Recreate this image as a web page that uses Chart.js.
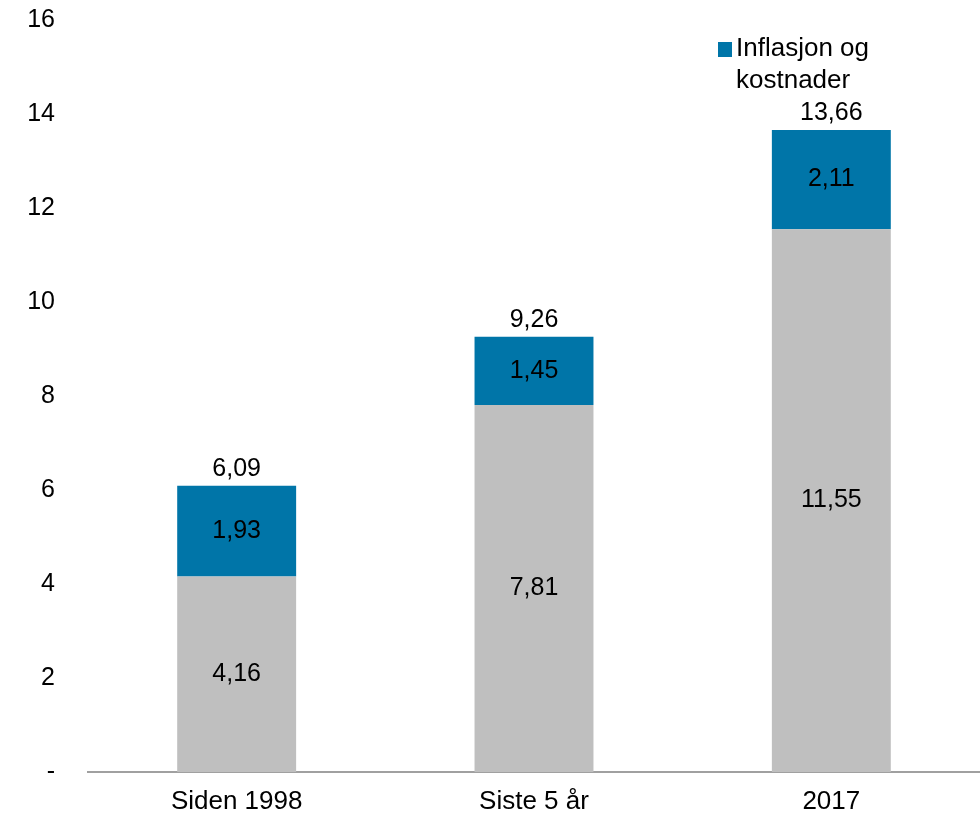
<!DOCTYPE html>
<html><head><meta charset="utf-8">
<script src="https://cdn.jsdelivr.net/npm/chart.js@4"></script>
<style>html,body{margin:0;padding:0;background:#fff;overflow:hidden}#wrap{position:relative;width:980px;height:815px}</style>
</head><body><div id="wrap"><canvas id="c"></canvas></div>
<script>
const categories = ["Siden 1998", "Siste 5 år", "2017"];
const baseValues = [4.16, 7.81, 11.55];
const inflationValues = [1.93, 1.45, 2.11];
const totalValues = [6.09, 9.26, 13.66];
const yTicks = [0, 2, 4, 6, 8, 10, 12, 14, 16];
const legendLabel = ["Inflasjon og", "kostnader"];

const FONT = "'Liberation Sans', Arial, sans-serif";
const FS = 25;
const fmt = v => v.toFixed(2).replace('.', ',');

const labelsPlugin = {
  id: 'labels',
  afterDatasetsDraw(chart) {
    const ctx = chart.ctx;
    ctx.save();
    ctx.font = FS + "px " + FONT;
    ctx.fillStyle = "#000";
    ctx.textAlign = "center";
    ctx.textBaseline = "middle";
    chart.data.datasets.forEach((ds, di) => {
      const meta = chart.getDatasetMeta(di);
      meta.data.forEach((bar, i) => {
        const mid = (bar.y + bar.base) / 2;
        ctx.fillText(fmt(ds.data[i]), bar.x, mid);
      });
    });
    const topMeta = chart.getDatasetMeta(1);
    topMeta.data.forEach((bar, i) => {
      ctx.fillText(fmt(totalValues[i]), bar.x, bar.y - 17);
    });
    const ds = chart.data.datasets[1];
    ctx.fillStyle = ds.backgroundColor;
    ctx.fillRect(718, 42, 14, 15);
    ctx.fillStyle = "#000";
    ctx.textAlign = "left";
    ctx.font = "26px " + FONT;
    legendLabel.forEach((t, k) => ctx.fillText(t, 736, 49 + k * 32));
    ctx.restore();
  }
};

new Chart(document.getElementById('c'), {
  type: 'bar',
  data: {
    labels: categories,
    datasets: [
      { label: "Base", data: baseValues, backgroundColor: "#BFBFBF", barPercentage: 0.4, categoryPercentage: 1 },
      { label: legendLabel.join(" "), data: inflationValues, backgroundColor: "#0075A8", barPercentage: 0.4, categoryPercentage: 1 }
    ]
  },
  options: {
    responsive: true,
    maintainAspectRatio: false,
    animation: false,
    layout: { padding: { top: 20, right: 0, left: 0, bottom: 0 } },
    plugins: { legend: { display: false }, tooltip: { enabled: false } },
    scales: {
      x: {
        stacked: true,
        grid: { display: false, drawTicks: false },
        border: { display: true, color: "#A0A0A0", width: 2 },
        ticks: { color: "#000", font: { family: FONT, size: 26 }, padding: 14, maxRotation: 0 },
        afterFit(s) { s.height = 43; s.paddingLeft = 0; s.paddingRight = 0; }
      },
      y: {
        stacked: true,
        min: 0, max: 16,
        afterBuildTicks(s) { s.ticks = yTicks.map(v => ({ value: v })); },
        grid: { display: false, drawTicks: false },
        border: { display: false },
        ticks: {
          color: "#000", font: { family: FONT, size: FS }, padding: 33,
          callback: v => v === 0 ? "-" : String(v)
        },
        afterFit(s) { s.width = 88; s.paddingTop = 0; s.paddingBottom = 0; }
      }
    }
  },
  plugins: [labelsPlugin]
});
</script></body></html>
